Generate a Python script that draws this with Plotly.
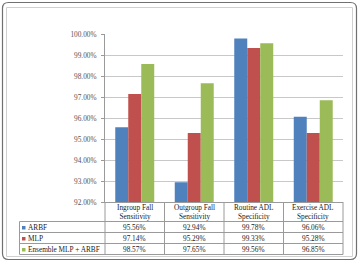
import plotly.graph_objects as go

categories = ["Ingroup Fall<br>Sensitivity", "Outgroup Fall<br>Sensitivity",
              "Routine ADL<br>Specificity", "Exercise ADL<br>Specificity"]
series_names = ["ARBF", "MLP", "Ensemble MLP + ARBF"]
arbf = [95.56, 92.94, 99.78, 96.06]
mlp = [97.14, 95.29, 99.33, 95.28]
ensemble = [98.57, 97.65, 99.56, 96.85]
colors = ["#4F81BD", "#C0504D", "#9BBB59"]
y_ticks = [92, 93, 94, 95, 96, 97, 98, 99, 100]
y_tick_labels = ["92.00%", "93.00%", "94.00%", "95.00%", "96.00%", "97.00%",
                 "98.00%", "99.00%", "100.00%"]

W, H = 359, 262
L, R, T, B = 105, 343, 34, 202  # plot area in pixels
pw, ph = R - L, B - T


def px(x):
    return (x - L) / pw


def py(y):
    return (B - y) / ph


fig = go.Figure()
for name, vals, c in zip(series_names, [arbf, mlp, ensemble], colors):
    fig.add_trace(go.Bar(x=categories, y=vals, name=name, marker_color=c,
                         marker_line_width=0))

shapes = []
gray = "#9a9a9a"
r = 6
x0, x1, y0, y1 = 2.5, 356.5, 2.5, 259.5
path = (f"M {px(x0 + r)} {py(y0)} L {px(x1 - r)} {py(y0)} Q {px(x1)} {py(y0)} {px(x1)} {py(y0 + r)} "
        f"L {px(x1)} {py(y1 - r)} Q {px(x1)} {py(y1)} {px(x1 - r)} {py(y1)} "
        f"L {px(x0 + r)} {py(y1)} Q {px(x0)} {py(y1)} {px(x0)} {py(y1 - r)} "
        f"L {px(x0)} {py(y0 + r)} Q {px(x0)} {py(y0)} {px(x0 + r)} {py(y0)} Z")
shapes.append(dict(type="path", xref="paper", yref="paper", path=path,
                   line=dict(color="#707070", width=1.2)))
shapes.append(dict(type="rect", xref="paper", yref="paper",
                   x0=px(6.5), x1=px(352.5), y0=py(7.5), y1=py(256.5),
                   line=dict(color="#d0d0d0", width=1)))

row_lines = [221.5, 232.5, 243.5, 254.5]
for yy in row_lines:
    shapes.append(dict(type="line", xref="paper", yref="paper", x0=px(19.5), x1=px(R),
                       y0=py(yy), y1=py(yy), line=dict(color=gray, width=1)))
shapes.append(dict(type="line", xref="paper", yref="paper", x0=px(19.5), x1=px(19.5),
                   y0=py(221.5), y1=py(254.5), line=dict(color=gray, width=1)))
n = len(categories)
for i in range(n + 1):
    xx = L + pw * i / n
    shapes.append(dict(type="line", xref="paper", yref="paper", x0=px(xx), x1=px(xx),
                       y0=py(B), y1=py(254.5), line=dict(color=gray, width=1)))

annotations = []
font = dict(family="Liberation Serif, Times New Roman, serif", size=7.3, color="#222222")
for i, cat in enumerate(categories):
    annotations.append(dict(x=cat, xref="x", y=py(211.5), yref="paper", text=cat,
                            showarrow=False, font=font, yanchor="middle"))
row_centers = [227.5, 238.5, 249.5]
for name, vals, c, yc in zip(series_names, [arbf, mlp, ensemble], colors, row_centers):
    shapes.append(dict(type="rect", xref="paper", yref="paper", x0=px(22), x1=px(25.5),
                       y0=py(yc - 1.5), y1=py(yc + 2), fillcolor=c, line=dict(width=0)))
    annotations.append(dict(x=px(26), xref="paper", y=py(yc), yref="paper", text=name,
                            showarrow=False, font=font, xanchor="left", yanchor="middle"))
    for cat, v in zip(categories, vals):
        annotations.append(dict(x=cat, xref="x", y=py(yc), yref="paper", text=f"{v:.2f}%",
                                showarrow=False, font=font, yanchor="middle"))

fig.update_layout(
    width=W, height=H,
    margin=dict(l=L, r=W - R, t=T, b=H - B, pad=0),
    paper_bgcolor="white", plot_bgcolor="white",
    barmode="group", bargap=0.345, bargroupgap=0,
    showlegend=False,
    shapes=shapes, annotations=annotations,
    xaxis=dict(showticklabels=False, showgrid=False, showline=True, linecolor=gray,
               linewidth=1, ticks="", zeroline=False),
    yaxis=dict(range=[92, 100], tickvals=y_ticks, ticktext=y_tick_labels,
               showgrid=True, gridcolor="#c8c8c8", gridwidth=1, showline=True,
               linecolor=gray, linewidth=1, ticks="outside", ticklen=3, tickcolor=gray,
               ticklabelstandoff=3,
               tickfont=dict(family="Liberation Serif, Times New Roman, serif", size=7.3,
                             color="#555555"), zeroline=False),
)

fig.write_html("out.html")
